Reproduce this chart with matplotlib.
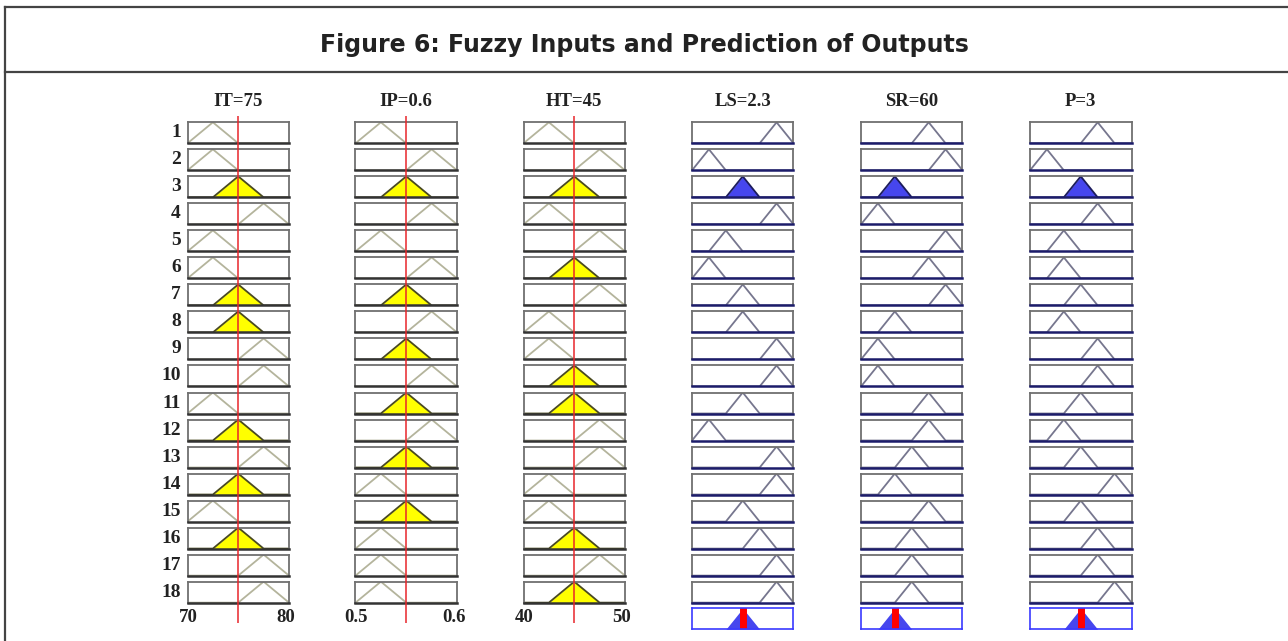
import numpy as np
import matplotlib.pyplot as plt

W, H = 1288, 641

title = "Figure 6: Fuzzy Inputs and Prediction of Outputs"

input_names = ["IT=75", "IP=0.6", "HT=45"]
input_ranges = [(70, 80), (0.5, 0.6), (40, 50)]
input_ticks = [("70", "80"), ("0.5", "0.6"), ("40", "50")]
input_values = [75, 0.55, 45]

# membership function used by each rule (L = low, C = mid, R = high)
it_rules = list("LLCRLLCCRRLCRCLCRR")
ip_rules = list("LRCRLRCRCRCRCLCLLL")
ht_rules = list("LRCLRCRLLCCRRLLCRC")

output_names = ["LS=2.3", "SR=60", "P=3"]
# output membership function per rule, 1..5 (peak at k/6 of the range)
ls_rules = [5, 1, 3, 5, 2, 1, 3, 3, 5, 5, 3, 1, 5, 5, 3, 4, 5, 5]
sr_rules = [4, 5, 2, 1, 5, 4, 5, 2, 1, 1, 4, 4, 3, 2, 4, 3, 3, 3]
p_rules = [4, 1, 3, 4, 2, 2, 3, 2, 4, 4, 3, 2, 3, 5, 3, 4, 4, 5]

rule_labels = [str(i + 1) for i in range(18)]

# layout (pixels)
col_left = [187.5, 355.5, 523.5, 692.0, 861.0, 1030.0]
box_w = 101.5
row_top0 = 122.3
row_pitch = 27.02
box_h = 21.0
agg_top = 608.3


def trimf(x, a, b, c):
    return np.clip(np.minimum((x - a) / (b - a), (c - x) / (c - b)), 0, 1)


def px_axes(fig, x, y, w, h):
    return fig.add_axes([x / W, 1 - (y + h) / H, w / W, h / H])


def style_box(ax, edge='#707070', bottom='#333333'):
    ax.set_xticks([])
    ax.set_yticks([])
    for s in ax.spines.values():
        s.set_color(edge)
        s.set_linewidth(1.3)
    ax.spines['bottom'].set_color(bottom)
    ax.spines['bottom'].set_linewidth(1.8)


fig = plt.figure(figsize=(W / 100, H / 100), dpi=100)
bg = fig.add_axes([0, 0, 1, 1])
bg.set_xlim(0, W)
bg.set_ylim(H, 0)
bg.axis('off')

# outer frame and title band
frame_kw = dict(color='#444444', lw=1.6)
bg.plot([5, W], [7, 7], **frame_kw)
bg.plot([5, W], [72, 72], **frame_kw)
bg.plot([5, 5], [7, H], **frame_kw)
bg.text(W / 2, 45, title, ha='center', va='center', fontsize=17,
        fontweight='bold', family='DejaVu Sans', color='#222222')

serif = dict(family='Liberation Serif', fontweight='bold', color='#222222')

# rule numbers
for i, lab in enumerate(rule_labels):
    yc = row_top0 + i * row_pitch + box_h / 2
    bg.text(181, yc, lab, ha='right', va='center', fontsize=14, **serif)

in_rules = [it_rules, ip_rules, ht_rules]
out_rules = [ls_rules, sr_rules, p_rules]

# membership degrees of the inputs, rule strengths
strengths = np.ones(18)
mf_params = []
for k in range(3):
    lo, hi = input_ranges[k]
    step = (hi - lo) / 4
    params = {'L': (lo, lo + step, lo + 2 * step),
              'C': (lo + step, lo + 2 * step, lo + 3 * step),
              'R': (lo + 2 * step, lo + 3 * step, hi)}
    mf_params.append(params)
    mus = np.array([trimf(np.array(input_values[k]), *params[m]) for m in in_rules[k]])
    strengths = np.minimum(strengths, mus)

# input columns
for k in range(3):
    lo, hi = input_ranges[k]
    x = np.linspace(lo, hi, 401)
    xl = col_left[k]
    bg.text(xl + box_w / 2, 101, input_names[k], ha='center', va='center', fontsize=13.5, **serif)
    for i, m in enumerate(in_rules[k]):
        ax = px_axes(fig, xl, row_top0 + i * row_pitch, box_w, box_h)
        y = trimf(x, *mf_params[k][m])
        mu = float(trimf(np.array(input_values[k]), *mf_params[k][m]))
        if mu > 0:
            ax.fill_between(x, np.minimum(y, mu), color='#ffff00', lw=0)
            ax.plot(x, y, color='#4a4a20', lw=1.3)
        else:
            ax.plot(x, y, color='#b4b49c', lw=1.3)
        ax.set_xlim(lo, hi)
        ax.set_ylim(0, 1.0)
        style_box(ax)
    bg.text(xl + 1, 617, input_ticks[k][0], ha='center', va='center', fontsize=13.5, **serif)
    bg.text(xl + box_w - 3, 617, input_ticks[k][1], ha='center', va='center', fontsize=13.5, **serif)
    # red input value line over the column
    over = px_axes(fig, xl, 116, box_w, 623 - 116)
    over.set_xlim(lo, hi)
    over.axvline(input_values[k], color='#e8262b', lw=1.1)
    over.axis('off')
    over.patch.set_alpha(0)

# output columns
xo = np.linspace(0, 6, 601)
for k in range(3):
    xl = col_left[k + 3]
    bg.text(xl + box_w / 2, 101, output_names[k], ha='center', va='center', fontsize=13.5, **serif)
    agg = np.zeros_like(xo)
    for i, c in enumerate(out_rules[k]):
        ax = px_axes(fig, xl, row_top0 + i * row_pitch, box_w, box_h)
        y = trimf(xo, c - 1, c, c + 1)
        s = strengths[i]
        if s > 0:
            clip = np.minimum(y, s)
            agg = np.maximum(agg, clip)
            ax.fill_between(xo, clip, color='#4646ee', lw=0)
            ax.plot(xo, y, color='#1c1c5c', lw=1.3)
        else:
            ax.plot(xo, y, color='#76768e', lw=1.3)
        ax.set_xlim(0, 6)
        ax.set_ylim(0, 1.0)
        style_box(ax, bottom='#1c1c6a')
    # aggregated output and its centroid
    ax = px_axes(fig, xl, agg_top, box_w, box_h)
    ax.fill_between(xo, agg, color='#4646ee', lw=0)
    centroid = np.sum(xo * agg) / np.sum(agg)
    ax.axvline(centroid, color='#ff0000', lw=5)
    ax.set_xlim(0, 6)
    ax.set_ylim(0, 1.0)
    style_box(ax, edge='#3a3aff', bottom='#3a3aff')
    for s in ax.spines.values():
        s.set_linewidth(1.2)

fig.savefig('out.png', dpi=100)
